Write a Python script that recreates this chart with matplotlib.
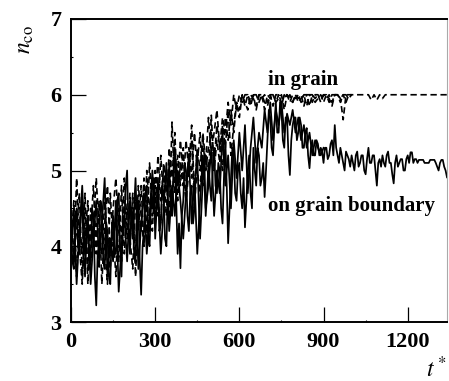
import numpy as np
import matplotlib
matplotlib.use("Agg")
import matplotlib.pyplot as plt
from matplotlib.ticker import MultipleLocator

plt.rcParams['font.family'] = ['Liberation Serif', 'DejaVu Serif']
plt.rcParams['mathtext.fontset'] = 'stix'

# sampling intervals (time units between stored samples)
fine_step = 5
coarse_step = 10

# on grain boundary, run 1 (t = 0 .. 1340, every 5)
boundary_1 = [
    4.2, 3.8, 3.7, 4.3, 4.5, 4.0, 3.9, 4.4, 4.6, 3.9, 3.6, 4.1, 4.3, 3.7, 3.8, 4.5, 4.4, 3.6, 3.22, 3.9,
    4.0, 4.6, 4.5, 3.8, 3.7, 4.3, 4.2, 3.6, 3.5, 4.2, 4.4, 3.9, 3.9, 4.6, 4.7, 4.0, 3.6, 4.4, 4.3, 4.8,
    5.0, 4.2, 3.9, 4.5, 4.4, 3.9, 3.8, 4.5, 4.6, 3.8, 3.36, 4.0, 4.2, 4.7, 4.8, 4.1, 4.0, 4.6, 4.5, 4.9,
    4.1, 4.5, 4.9, 4.2, 4.3, 4.8, 4.7, 4.1, 4.0, 4.7, 5.1, 4.5, 4.4, 5.0, 5.3, 4.6, 3.9, 4.3, 3.71, 4.4,
    4.6, 5.1, 5.0, 4.4, 4.2, 4.7, 4.8, 4.3, 4.5, 5.0, 5.2, 4.6, 4.1, 4.5, 4.9, 5.2, 4.4, 4.7, 5.1, 4.8,
    4.6, 5.0, 5.3, 4.8, 4.7, 5.1, 5.0, 4.5, 4.3, 4.9, 5.4, 4.8, 4.04, 4.5, 4.9, 5.3, 5.2, 4.7, 4.6, 5.0,
    5.1, 4.7, 4.5, 4.9, 4.25, 4.6, 5.0, 5.2, 4.7, 4.5, 5.3, 5.0, 4.8, 5.3, 5.2, 4.8, 4.9, 5.1, 4.65, 5.0,
    5.4, 5.8, 5.7, 5.3, 5.2, 5.6, 5.9, 5.5, 5.5, 5.9, 5.8, 5.4, 5.3, 5.7, 5.7, 5.2, 4.94, 5.4, 5.6, 5.7,
    5.7, 5.4, 5.5, 5.7, 5.6, 5.3, 5.3, 5.5, 5.56, 5.2, 5.03, 5.3, 5.4, 5.2, 5.2, 5.4, 5.35, 5.2, 5.3, 5.25,
    5.1, 5.3, 5.3, 5.15, 5.2, 5.35, 5.4, 5.2, 5.6, 5.3, 5.2, 5.1, 5.3, 5.2, 5.1, 5.0, 5.25, 5.2, 5.15, 5.05,
    5.2, 5.1, 5.0, 5.2, 5.25, 5.05, 5.1, 5.2, 5.2, 5.0, 4.95, 5.15, 5.3, 5.1, 5.1, 5.2, 5.2, 5.0, 4.8, 5.1,
    5.15, 5.05, 5.2, 5.1, 5.05, 5.2, 5.25, 5.1, 5.1, 4.95, 4.83, 5.1, 5.2, 5.05, 5.1, 5.15, 5.15, 5.0, 5.0, 5.15,
    5.2, 5.1, 5.24, 5.24, 5.1, 5.15, 5.15, 5.1, 5.14, 5.14, 5.14, 5.14, 5.1, 5.1, 5.1, 5.1, 5.14, 5.14, 5.14, 5.14,
    5.1, 5.05, 5.0, 5.1, 5.14, 5.14, 5.05, 5.0, 4.91,
]

# on grain boundary, run 2 (t = 0 .. 900, every 10)
boundary_2 = [
    3.9, 4.5, 3.5, 4.2, 4.8, 3.9, 4.4, 3.5, 4.1, 4.6,
    3.8, 4.3, 4.9, 3.6, 4.1, 3.8, 4.6, 3.4, 4.0, 4.4,
    3.8, 4.6, 4.1, 4.9, 3.7, 4.3, 4.7, 3.9, 4.4, 5.0,
    4.3, 4.7, 3.9, 4.5, 5.1, 4.2, 4.8, 4.4, 5.0, 4.6,
    4.1, 4.7, 5.2, 4.3, 4.9, 3.9, 4.6, 5.2, 4.5, 4.8,
    5.3, 4.4, 5.0, 4.7, 5.5, 4.8, 5.2, 4.5, 5.4, 4.9,
    5.5, 5.0, 5.6, 4.7, 5.3, 5.7, 5.1, 5.5, 5.3, 5.8,
    5.5, 5.9, 5.4, 5.8, 5.6, 5.9, 5.5, 5.75, 5.6, 5.8,
    5.5, 5.7, 5.4, 5.6, 5.3, 5.5, 5.2, 5.4, 5.3, 5.2, 5.3,
]

# in grain, run 1 (t = 0 .. 1340, every 10)
grain_1 = [
    4.4, 3.8, 4.9, 4.0, 3.5, 4.5, 3.7, 4.2, 4.8, 3.9,
    4.6, 3.5, 4.3, 4.8, 3.9, 4.2, 3.6, 4.5, 4.1, 4.9,
    4.3, 4.0, 4.7, 3.6, 4.5, 4.2, 4.9, 4.1, 5.1, 4.4,
    4.8, 4.4, 5.2, 4.6, 5.0, 4.3, 5.64, 4.7, 5.2, 4.8,
    5.3, 4.6, 5.0, 5.4, 4.5, 5.1, 5.5, 4.8, 5.2, 4.9,
    5.73, 5.0, 5.4, 5.1, 5.6, 5.3, 5.8, 5.2, 5.6, 5.9,
    5.7, 6.0, 5.85, 6.0, 5.9, 6.0, 5.8, 6.0, 5.95, 6.0,
    5.9, 6.0, 5.85, 6.0, 6.0, 5.9, 6.0, 5.95, 6.0, 5.9,
    6.0, 5.95, 6.0, 5.85, 6.0, 6.0, 5.9, 6.0, 6.0, 5.95,
    6.0, 6.0, 5.9, 6.0, 6.0, 6.0, 5.95, 5.67, 6.0, 6.0,
    6.0, 6.0, 6.0, 6.0, 6.0, 6.0, 6.0, 5.93, 6.0, 5.93,
    6.0, 5.95, 6.0, 6.0, 6.0, 6.0, 6.0, 6.0, 6.0, 6.0,
    6.0, 6.0, 6.0, 6.0, 6.0, 6.0, 6.0, 6.0, 6.0, 6.0,
    6.0, 6.0, 6.0, 6.0, 6.0,
]

# in grain, run 2 (t = 0 .. 1000, every 10)
grain_2 = [
    4.0, 4.6, 3.6, 4.3, 3.9, 4.7, 3.5, 4.5, 4.0, 4.3,
    3.7, 4.4, 4.0, 3.5, 4.7, 4.0, 4.4, 3.8, 4.8, 3.9,
    4.5, 4.1, 3.7, 4.6, 4.2, 4.8, 4.0, 4.6, 4.2, 4.9,
    4.5, 5.2, 4.6, 5.0, 4.4, 5.3, 4.9, 5.5, 4.6, 5.1,
    4.8, 5.4, 5.0, 5.6, 4.7, 5.3, 5.0, 5.5, 5.1, 5.7,
    5.2, 5.5, 5.8, 5.3, 5.7, 5.5, 5.9, 5.6, 6.0, 5.8,
    6.0, 5.9, 6.0, 6.0, 5.85, 6.0, 6.0, 5.9, 6.0, 5.8,
    6.0, 5.95, 6.0, 5.9, 6.0, 5.85, 6.0, 6.0, 5.9, 6.0,
    5.95, 6.0, 5.9, 6.0, 6.0, 5.85, 6.0, 5.95, 6.0, 5.9,
    6.0, 5.95, 6.0, 5.9, 6.0, 6.0, 5.95, 6.0, 5.9, 6.0, 6.0,
]

# in grain, run 3 (t = 0 .. 1000, every 10)
grain_3 = [
    4.5, 3.9, 4.2, 4.7, 3.6, 4.1, 4.6, 3.8, 4.3, 4.9,
    4.2, 3.9, 4.6, 4.1, 3.7, 4.5, 4.9, 4.2, 3.8, 4.6,
    4.1, 4.7, 4.3, 3.9, 4.8, 4.4, 4.0, 5.0, 4.5, 4.2,
    5.0, 4.6, 4.3, 5.1, 4.7, 5.0, 4.5, 5.2, 4.8, 5.4,
    4.9, 4.6, 5.3, 4.9, 5.5, 5.0, 4.7, 5.4, 5.0, 5.3,
    5.5, 5.1, 5.6, 5.3, 5.0, 5.7, 5.4, 5.8, 5.5, 5.9,
    5.8, 6.0, 5.9, 5.8, 6.0, 5.95, 5.85, 6.0, 6.0, 5.9,
    5.85, 6.0, 6.0, 5.9, 5.95, 6.0, 5.8, 6.0, 5.95, 5.9,
    6.0, 5.9, 5.95, 6.0, 5.85, 6.0, 6.0, 5.9, 5.95, 6.0,
    5.9, 6.0, 5.95, 5.85, 6.0, 6.0, 5.9, 6.0, 6.0, 5.95, 6.0,
]

x_ticks = [0, 300, 600, 900, 1200]
y_ticks = [3, 4, 5, 6, 7]

fig = plt.figure(figsize=(4.49, 3.81), dpi=100)
ax = fig.add_axes([71 / 449, 1 - 322 / 381, 376 / 449, 303 / 381])


def tgrid(vals, step):
    return np.arange(len(vals)) * step


for vals in (grain_1, grain_2, grain_3):
    ax.plot(tgrid(vals, coarse_step), vals, color='black', lw=1.2,
            ls=(0, (3.8, 2.2)))
ax.plot(tgrid(boundary_2, coarse_step), boundary_2, color='black', lw=1.25)
ax.plot(tgrid(boundary_1, fine_step), boundary_1, color='black', lw=1.25)

ax.set_xlim(0, 1340)
ax.set_ylim(3, 7)
ax.set_xticks(x_ticks)
ax.set_yticks(y_ticks)
ax.xaxis.set_minor_locator(MultipleLocator(150))
ax.yaxis.set_minor_locator(MultipleLocator(0.5))
ax.tick_params(which='major', direction='in', length=11, width=0.9,
               labelsize=16, pad=7, top=False, right=False)
ax.tick_params(which='minor', direction='in', length=1.5, width=0.8,
               top=False, right=False)
for lbl in ax.get_xticklabels() + ax.get_yticklabels():
    lbl.set_fontweight('bold')
for name, s in ax.spines.items():
    s.set_linewidth(1.4)
ax.spines['right'].set_linewidth(0.8)
ax.spines['right'].set_color('#aaaaaa')

ax.text(828, 6.2, 'in grain', fontsize=15, fontweight='bold',
        ha='center', va='center')
ax.text(999, 4.53, 'on grain boundary', fontsize=15, fontweight='bold',
        ha='center', va='center')

fig.text(25 / 449, 1 - 40 / 381, r'$n_{\rm co}$', fontsize=17,
         rotation=90, ha='center', va='center')
fig.text(436 / 449, 1 - 369 / 381, r'$t^*$', fontsize=17,
         ha='center', va='center')

fig.savefig('out.png', dpi=100)
